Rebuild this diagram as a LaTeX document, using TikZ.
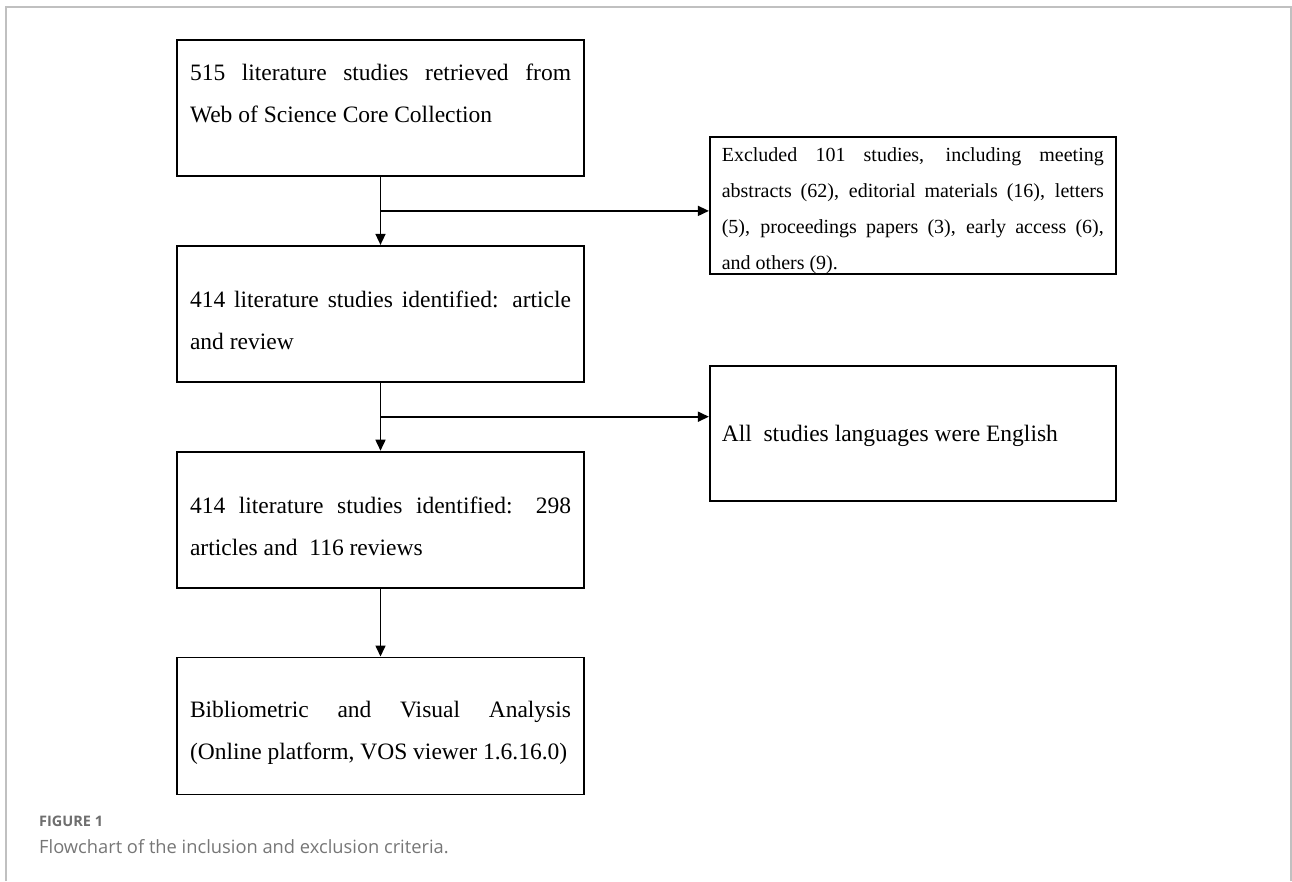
\documentclass[tikz,border=0pt]{standalone}
\usepackage{fontspec}
\setmainfont{Liberation Serif}
\newfontfamily\capfont{Open Sans}
\usetikzlibrary{arrows.meta, positioning, calc}
\definecolor{framegray}{RGB}{192,192,192}
\definecolor{captext}{RGB}{118,118,118}
\definecolor{labeltext}{RGB}{110,110,110}
\tolerance=10000
\hyphenpenalty=10000

\begin{document}
\begin{tikzpicture}[
  x=1pt, y=-1pt,
  box/.style={rectangle, draw, line width=1.8pt, minimum height=136pt, text width=381pt, inner xsep=13pt, align=justify, font=\fontsize{23.5pt}{42.5pt}\selectfont},
  sidebox/.style={box, text width=382pt, inner xsep=12pt},
  arrow/.style={-{Triangle[length=11pt, width=10pt]}, line width=1.6pt},
  frame/.style={framegray, line width=1.5pt},
  caplabel/.style={anchor=base west, inner sep=0pt, text=captext, font=\capfont\fontsize{18.3pt}{20pt}\selectfont},
]
\useasboundingbox (0,0) rectangle (1292,881);
\draw[frame] (6,881) -- (6,7) -- (1291,7) -- (1291,881);

% main column
\node[box] (a) at (380.5,108) {\strut 515 literature studies retrieved from\linebreak Web of Science Core Collection\par\mbox{}};
\node[box, below=68pt of a] (b) {\strut 414 literature studies identified: article\linebreak and review};
\node[box, below=68pt of b] (c) {\strut 414 literature studies identified: 298\linebreak articles and\ \ 116 reviews};
\node[box, below=68pt of c, minimum height=137pt] (d) {\strut Bibliometric and Visual Analysis\linebreak (Online platform, VOS viewer 1.6.16.0)};

% side boxes
\node[sidebox, minimum height=137pt, inner ysep=0pt, font=\fontsize{20pt}{36pt}\selectfont, right=124pt of a.south east, yshift=-28.5pt] (ex) {\strut Excluded 101 studies, including meeting\linebreak abstracts (62), editorial materials (16), letters\linebreak (5), proceedings papers (3), early access (6),\linebreak and others (9).};
\node[sidebox, minimum height=135pt, below=90pt of ex] (en) {\strut All\ \ studies languages were English};

\coordinate (m1) at ($(a.south)!0.5!(b.north)$);
\coordinate (m2) at ($(b.south)!0.5!(c.north)$);
\draw[arrow] (a) -- (b);
\draw[arrow] (b) -- (c);
\draw[arrow] (c) -- (d);
\draw[arrow] (m1) -- (m1 -| ex.west);
\draw[arrow] (m2) -- (m2 -| en.west);

% caption
\node[caplabel, text=labeltext, font=\capfont\bfseries\fontsize{14.5pt}{16pt}\selectfont] (figlabel) at (39,826) {FIGURE 1};
\node[caplabel] (figcaption) at (39,853) {Flowchart of the inclusion and exclusion criteria.};
\end{tikzpicture}
\end{document}
